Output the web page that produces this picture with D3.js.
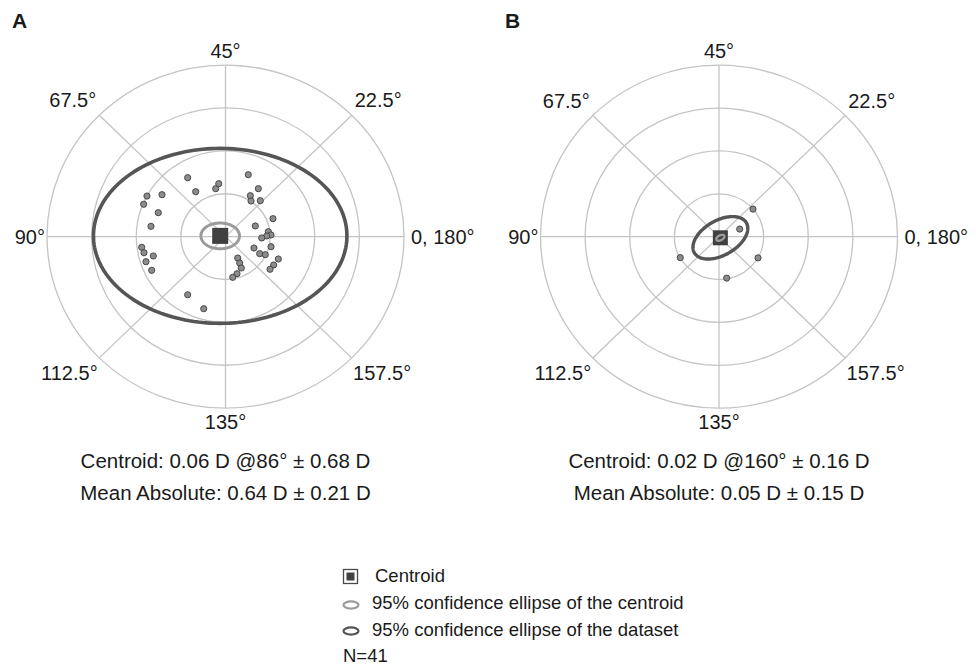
<!DOCTYPE html>
<html>
<head>
<meta charset="utf-8">
<script src="https://cdn.jsdelivr.net/npm/d3@7"></script>
<style>
  html, body { margin: 0; padding: 0; background: #fff; }
  svg { display: block; }
  text { font-family: "Liberation Sans", Arial, Helvetica, sans-serif; fill: #1a1a1a; }
</style>
</head>
<body>
<svg id="chart" width="976" height="666"></svg>
<script>
// ---------------- DATA ----------------
const axisValues = [0, 22.5, 45, 67.5, 90, 112.5, 135, 157.5];
const axisLabels = ["0, 180°", "22.5°", "45°", "67.5°", "90°", "112.5°", "135°", "157.5°"];
const ringValues = [0.5, 1, 1.5, 2];
const panelLetters = ["A", "B"];

// double-angle plot coordinates (D)
const pointsA = [
  [-0.424, 0.687], [-0.334, 0.524], [-0.110, 0.559], [-0.076, 0.617],
  [0.255, 0.722], [0.368, 0.559], [0.278, 0.477], [0.286, 0.415], [0.390, 0.419],
  [-0.880, 0.473], [-0.917, 0.377], [-0.711, 0.489], [-0.753, 0.279], [-0.835, 0.120],
  [0.532, 0.209], [0.334, 0.124], [0.480, 0.057], [0.510, 0.019], [0.462, 0.007],
  [0.406, -0.016], [0.510, -0.118], [0.319, -0.133], [0.383, -0.199], [0.446, -0.211],
  [0.592, -0.261], [0.540, -0.331], [0.499, -0.381],
  [0.137, -0.250], [0.159, -0.308], [0.177, -0.366], [0.129, -0.433], [0.081, -0.475],
  [-0.939, -0.125], [-0.913, -0.188], [-0.809, -0.226], [-0.891, -0.293], [-0.827, -0.393],
  [-0.424, -0.678], [-0.244, -0.841]
];
const pointsB = [
  [0.381, 0.322], [0.232, 0.089], [-0.434, -0.244], [0.437, -0.247], [0.086, -0.483],
  [0, 0], [0, 0], [0, 0], [0, 0], [0, 0], [0, 0], [0, 0], [0, 0], [0, 0],
  [0, 0], [0, 0], [0, 0], [0, 0], [0, 0], [0, 0], [0, 0], [0, 0], [0, 0],
  [0, 0], [0, 0], [0, 0], [0, 0], [0, 0], [0, 0], [0, 0], [0, 0], [0, 0],
  [0, 0], [0, 0], [0, 0], [0, 0], [0, 0], [0, 0], [0, 0], [0, 0], [0, 0]
];
const centroidMag = [0.06, 0.02];
const centroidAxis = [86, 160];
// [semi-axis x (D), semi-axis y (D), rotation (deg)]
const dataEllipse = [[1.42, 1.02, 0], [0.34, 0.20, 32]];
const centroidEllipse = [[0.216, 0.150, 0], [0.050, 0.028, 30]];
const statLine1 = ["Centroid: 0.06 D @86° ± 0.68 D", "Centroid: 0.02 D @160° ± 0.16 D"];
const statLine2 = ["Mean Absolute: 0.64 D ± 0.21 D", "Mean Absolute: 0.05 D ± 0.15 D"];
const legendLabels = ["Centroid", "95% confidence ellipse of the centroid", "95% confidence ellipse of the dataset", "N=41"];

// ---------------- LAYOUT ----------------
const svg = d3.select("#chart");
svg.append("rect").attr("width", 976).attr("height", 666).attr("fill", "#fff");

const panelCenters = [[225.5, 236.6], [719, 236.7]];
const RX = 178.5, RY = 171.5, RMAX = 2;
const gridColor = "#c4c4c4";
const darkEll = "#555555";
const lightEll = "#9b9b9b";

function toXY(mag, axisDeg) {
  const a = 2 * axisDeg * Math.PI / 180;
  return [mag * Math.cos(a), mag * Math.sin(a)];
}

panelCenters.forEach((c, i) => {
  const [cx, cy] = c;
  const xs = d3.scaleLinear().domain([-RMAX, RMAX]).range([cx - RX, cx + RX]);
  const ys = d3.scaleLinear().domain([-RMAX, RMAX]).range([cy + RY, cy - RY]);
  const g = svg.append("g");

  // rings
  g.selectAll("ellipse.ring").data(ringValues).join("ellipse")
    .attr("cx", xs(0)).attr("cy", ys(0))
    .attr("rx", d => xs(d) - xs(0)).attr("ry", d => ys(0) - ys(d))
    .attr("fill", "none").attr("stroke", gridColor).attr("stroke-width", 1.3);

  // spokes
  g.selectAll("line.spoke").data(axisValues).join("line")
    .attr("x1", xs(0)).attr("y1", ys(0))
    .attr("x2", d => xs(toXY(RMAX, d)[0]))
    .attr("y2", d => ys(toXY(RMAX, d)[1]))
    .attr("stroke", gridColor).attr("stroke-width", 1.3);

  // axis labels
  const capH = 14;
  axisValues.forEach((v, k) => {
    const a = 2 * v * Math.PI / 180;
    const ux = Math.cos(a), uy = Math.sin(a);
    const diag = Math.abs(2 * ux * uy);
    const pad = 7 + 7 * diag - (ux < -0.9 ? 5 : 0);
    const t = g.append("text").text(axisLabels[k]).attr("font-size", 20).attr("text-anchor", "middle");
    const w = t.node().getComputedTextLength();
    const px = xs(0) + (RX + pad) * ux + (w / 2) * ux;
    const py = ys(0) - (RY + pad) * uy - (capH / 2) * uy;
    t.attr("x", px).attr("y", py + capH / 2);
  });

  // points
  const pts = i === 0 ? pointsA : pointsB;
  g.selectAll("circle.pt").data(pts).join("circle")
    .attr("cx", d => xs(d[0])).attr("cy", d => ys(d[1]))
    .attr("r", 3.1).attr("fill", "#8c8c8c").attr("stroke", "#3e3e3e").attr("stroke-width", 0.9);

  const cen = toXY(centroidMag[i], centroidAxis[i]);

  function ellPath(p) {
    const [ax, by, rot] = p;
    const r = rot * Math.PI / 180;
    const samples = d3.range(0, 360, 2).map(tDeg => {
      const t = tDeg * Math.PI / 180;
      const ex = ax * Math.cos(t), ey = by * Math.sin(t);
      return [cen[0] + ex * Math.cos(r) - ey * Math.sin(r), cen[1] + ex * Math.sin(r) + ey * Math.cos(r)];
    });
    return d3.line().x(d => xs(d[0])).y(d => ys(d[1])).curve(d3.curveLinearClosed)(samples);
  }

  // dataset ellipse
  g.append("path").attr("d", ellPath(dataEllipse[i]))
    .attr("fill", "none").attr("stroke", darkEll).attr("stroke-width", i === 0 ? 3.6 : 3.4);

  // centroid square
  const sq = i === 0 ? 16 : 15;
  g.append("rect").attr("x", xs(cen[0]) - sq / 2).attr("y", ys(cen[1]) - sq / 2)
    .attr("width", sq).attr("height", sq).attr("fill", "#404040");

  // centroid ellipse
  g.append("path").attr("d", ellPath(centroidEllipse[i]))
    .attr("fill", "none").attr("stroke", lightEll).attr("stroke-width", i === 0 ? 3 : 2.4);

  // panel letter
  svg.append("text").text(panelLetters[i]).attr("x", i === 0 ? 12 : 505).attr("y", 28)
    .attr("font-size", 21).attr("font-weight", "bold");

  // stats
  svg.append("text").text(statLine1[i]).attr("x", xs(0)).attr("y", 468)
    .attr("text-anchor", "middle").attr("font-size", 20.5);
  svg.append("text").text(statLine2[i]).attr("x", xs(0)).attr("y", 500)
    .attr("text-anchor", "middle").attr("font-size", 20.5);
});

// ---------------- LEGEND ----------------
const lg = svg.append("g");
lg.append("rect").attr("x", 343.5).attr("y", 569.5).attr("width", 14).attr("height", 14)
  .attr("fill", "#fff").attr("stroke", "#4a4a4a").attr("stroke-width", 1.3);
lg.append("rect").attr("x", 346.5).attr("y", 572.5).attr("width", 8).attr("height", 8).attr("fill", "#404040");
lg.append("ellipse").attr("cx", 351).attr("cy", 605).attr("rx", 7.5).attr("ry", 3.6)
  .attr("fill", "none").attr("stroke", lightEll).attr("stroke-width", 2.2);
lg.append("ellipse").attr("cx", 351).attr("cy", 631).attr("rx", 7.5).attr("ry", 3.6)
  .attr("fill", "none").attr("stroke", darkEll).attr("stroke-width", 2.2);
const legX = [375, 372, 372, 343];
const legY = [582, 609, 636, 662];
legendLabels.forEach((t, k) => {
  lg.append("text").text(t).attr("x", legX[k]).attr("y", legY[k]).attr("font-size", 18.5);
});
</script>
</body>
</html>
